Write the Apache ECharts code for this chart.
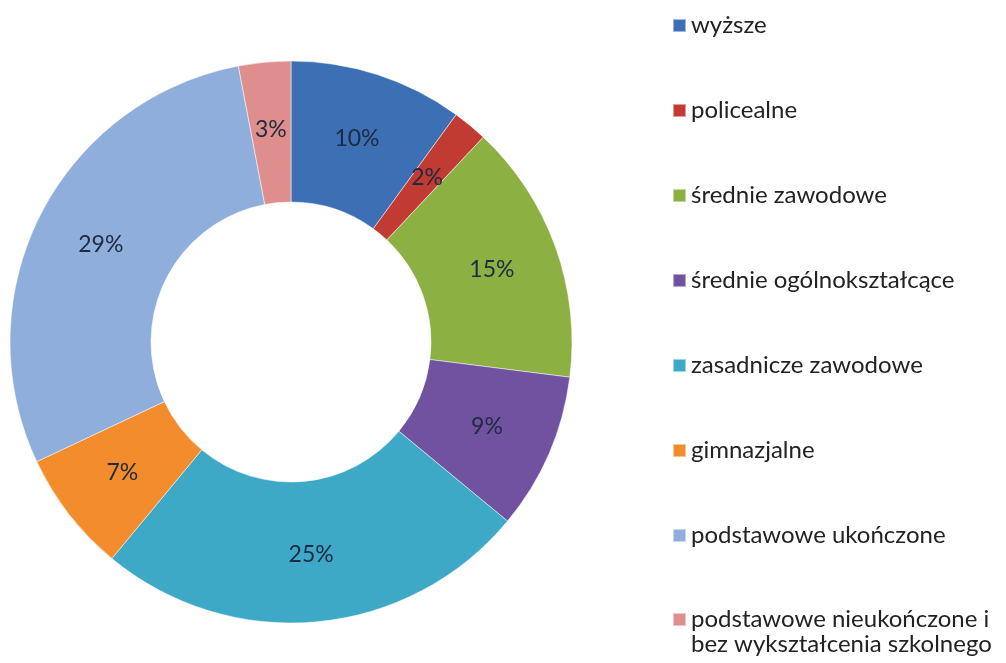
<!DOCTYPE html>
<html>
<head>
<meta charset="utf-8">
<script src="https://cdn.jsdelivr.net/npm/echarts@6/dist/echarts.min.js"></script>
<style>
    html, body { margin: 0; padding: 0; background: #fff; }
    #chart { width: 1006px; height: 663px; }
</style>
</head>
<body>
<div id="chart"></div>
<script>
    // kategorie wykształcenia
    var categories = [
        'wyższe',
        'policealne',
        'średnie zawodowe',
        'średnie ogólnokształcące',
        'zasadnicze zawodowe',
        'gimnazjalne',
        'podstawowe ukończone',
        'podstawowe nieukończone i\nbez wykształcenia szkolnego'
    ];
    // udział procentowy
    var shares = [10, 2, 15, 9, 25, 7, 29, 3];
    var colors = ['#3D6FB5', '#C23B32', '#8DB043', '#7052A0', '#3EA9C6', '#F28C2C', '#8FAEDB', '#DE8F8D'];

    var pieData = [];
    for (var i = 0; i < categories.length; i++) {
        pieData.push({ name: categories[i], value: shares[i] });
    }

    var legendText = {
        fontFamily: 'Lato',
        fontSize: 24,
        lineHeight: 25,
        color: '#222'
    };

    var chart = echarts.init(document.getElementById('chart'));
    chart.setOption({
        backgroundColor: '#fff',
        color: colors,
        legend: [
            {
                orient: 'vertical',
                left: 672,
                top: 13,
                height: 700,
                padding: 0,
                itemWidth: 13,
                itemHeight: 13,
                itemGap: 60,
                icon: 'rect',
                textStyle: legendText,
                data: categories.slice(0, 7)
            },
            {
                // ostatnia pozycja ma dwie linie - pusta linia na gorze, zeby ikona stala przy pierwszej
                orient: 'vertical',
                left: 672,
                top: 582,
                padding: 0,
                itemWidth: 13,
                itemHeight: 13,
                icon: 'rect',
                textStyle: legendText,
                formatter: function (name) { return ' \n' + name; },
                data: [categories[7]]
            }
        ],
        series: [
            {
                name: 'wykształcenie',
                type: 'pie',
                center: [291, 342],
                radius: [140, 281],
                startAngle: 90,
                clockwise: true,
                avoidLabelOverlap: false,
                itemStyle: {
                    borderColor: 'rgba(255,255,255,0.5)',
                    borderWidth: 1
                },
                label: {
                    show: true,
                    position: 'inside',
                    formatter: '{c}%',
                    fontFamily: 'Lato',
                    fontSize: 23,
                    color: '#1E2A40'
                },
                labelLine: { show: false },
                data: pieData
            }
        ]
    });
</script>
</body>
</html>
